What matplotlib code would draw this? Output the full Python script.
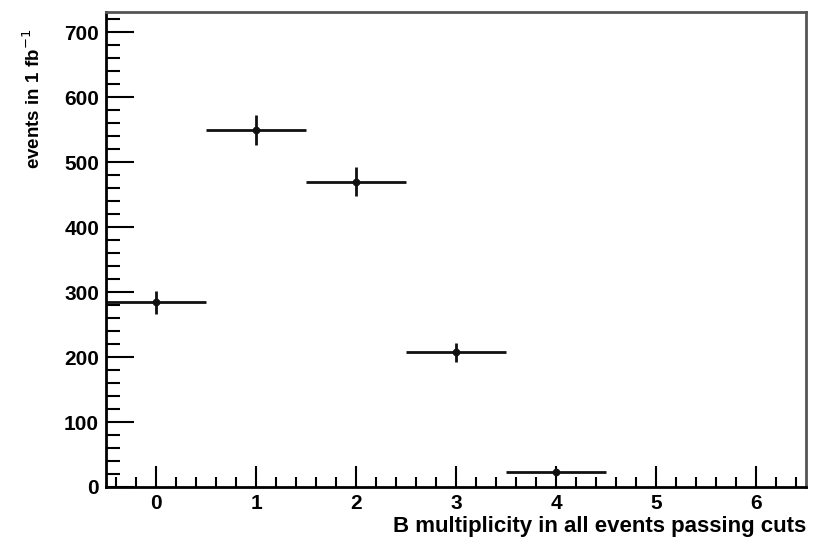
import matplotlib.pyplot as plt
from matplotlib.ticker import MultipleLocator

# B multiplicity histogram (events in 1 fb^-1)
n_b = [0, 1, 2, 3, 4]
events = [284, 550, 470, 207, 23]
err = [17, 23, 22, 14, 5]
bin_half = [0.5, 0.5, 0.5, 0.5, 0.5]

plt.rcParams['font.family'] = ['Liberation Sans', 'DejaVu Sans']

fig = plt.figure(figsize=(8.13, 5.39), dpi=100)
ax = fig.add_axes([106 / 813, 52 / 539, 700 / 813, 475 / 539])

ax.errorbar(n_b, events, xerr=bin_half, yerr=err, fmt='o', color='#111111',
            markersize=4.5, elinewidth=2, capsize=0)

ax.set_xlim(-0.5, 6.5)
ax.set_ylim(0, 731)

ax.xaxis.set_major_locator(MultipleLocator(1))
ax.xaxis.set_minor_locator(MultipleLocator(0.2))
ax.yaxis.set_major_locator(MultipleLocator(100))
ax.yaxis.set_minor_locator(MultipleLocator(20))

ax.tick_params(axis='both', which='both', direction='in', top=False, right=False,
               width=1.5, labelsize=15)
ax.tick_params(axis='x', which='major', length=15, pad=5)
ax.tick_params(axis='x', which='minor', length=7)
ax.tick_params(axis='y', which='major', length=20, pad=5)
ax.tick_params(axis='y', which='minor', length=10)
for lab in ax.get_xticklabels() + ax.get_yticklabels():
    lab.set_fontweight('bold')

for sp in ax.spines.values():
    sp.set_linewidth(2)
ax.spines['top'].set_color('#555555')
ax.spines['right'].set_color('#555555')

ax.set_xlabel('B multiplicity in all events passing cuts', fontsize=16,
              fontweight='bold', loc='right', labelpad=2)
ax.set_ylabel('events in 1 fb$^{-1}$', fontsize=13.5, fontweight='bold',
              ha='right')
ax.yaxis.set_label_coords(-0.088, 0.965)

fig.savefig('out.png', dpi=100)
